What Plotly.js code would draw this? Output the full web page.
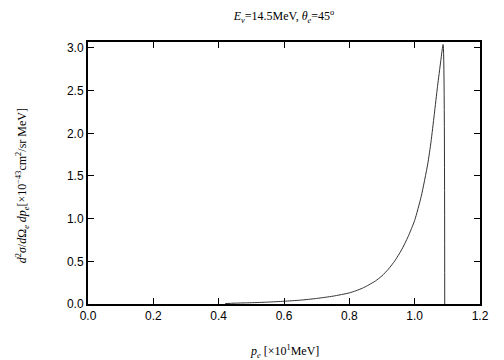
<!DOCTYPE html>
<html>
<head>
<meta charset="utf-8">
<script src="https://cdn.plot.ly/plotly-3.0.1.min.js"></script>
<style>html,body{margin:0;padding:0;background:#fff;}#plot{width:504px;height:360px;}</style>
</head>
<body>
<div id="plot"></div>
<script>
// momentum p_e [x10 MeV]
var pe = [0.42, 0.45, 0.50, 0.55, 0.60, 0.65, 0.70, 0.75, 0.80, 0.82, 0.84, 0.86, 0.88, 0.90, 0.92, 0.94, 0.96, 0.98, 1.00, 1.02, 1.04, 1.05, 1.06, 1.07, 1.08, 1.087, 1.092];
// cross section [x10^-43 cm^2/sr MeV]
var xsec = [0.005, 0.010, 0.015, 0.022, 0.032, 0.045, 0.065, 0.092, 0.13, 0.155, 0.185, 0.225, 0.27, 0.33, 0.41, 0.51, 0.635, 0.79, 0.98, 1.26, 1.64, 1.90, 2.22, 2.55, 2.85, 3.04, 0.0];
var xTicks = [0.0, 0.2, 0.4, 0.6, 0.8, 1.0, 1.2];
var yTicks = [0.0, 0.5, 1.0, 1.5, 2.0, 2.5, 3.0];

var trace = {
  x: pe, y: xsec, type: 'scatter', mode: 'lines',
  line: {color: '#333', width: 1, shape: 'spline', smoothing: 0.6}, hoverinfo: 'none'
};
var axisCommon = {
  showline: true, linecolor: '#000', linewidth: 2, mirror: 'ticks',
  ticks: 'inside', ticklen: 6, tickwidth: 1, tickcolor: '#000',
  showgrid: false, zeroline: false,
  tickfont: {family: 'Liberation Sans, Arial, sans-serif', size: 12, color: '#000'}
};
var layout = {
  width: 504, height: 360,
  margin: {l: 88, r: 24, t: 42, b: 56},
  paper_bgcolor: '#fff', plot_bgcolor: '#fff',
  showlegend: false,
  title: {
    text: '<i>E<sub>ν</sub></i>=14.5MeV, <i>θ<sub>e</sub></i>=45<sup>o</sup>',
    font: {family: 'Liberation Serif, Times New Roman, serif', size: 12, color: '#000'},
    x: 0.5, xref: 'paper', y: 0.955, yanchor: 'middle'
  },
  xaxis: Object.assign({}, axisCommon, {
    range: [0, 1.2], tickvals: xTicks, ticktext: xTicks.map(function(v){return v.toFixed(1);})
  }),
  yaxis: Object.assign({}, axisCommon, {
    range: [0, 3.07], tickvals: yTicks, ticktext: yTicks.map(function(v){return v.toFixed(1);})
  }),
  annotations: [
    {
      text: '<i>p<sub>e</sub></i> [×10<sup>1</sup>MeV]',
      xref: 'paper', yref: 'paper', x: 0.5, y: -0.183,
      xanchor: 'center', yanchor: 'middle', showarrow: false,
      font: {family: 'Liberation Serif, Times New Roman, serif', size: 12, color: '#000'}
    },
    {
      text: '<i>d</i><sup>2</sup><i>σ</i>/<i>d</i>Ω<sub><i>e</i></sub> <i>dp<sub>e</sub></i>[×10<sup>−43</sup>cm<sup>2</sup>/sr MeV]',
      xref: 'paper', yref: 'paper', x: -0.168, y: 0.45, textangle: -90,
      xanchor: 'center', yanchor: 'middle', showarrow: false,
      font: {family: 'Liberation Serif, Times New Roman, serif', size: 12, color: '#000'}
    }
  ]
};
Plotly.newPlot('plot', [trace], layout, {staticPlot: true, displayModeBar: false});
</script>
</body>
</html>
